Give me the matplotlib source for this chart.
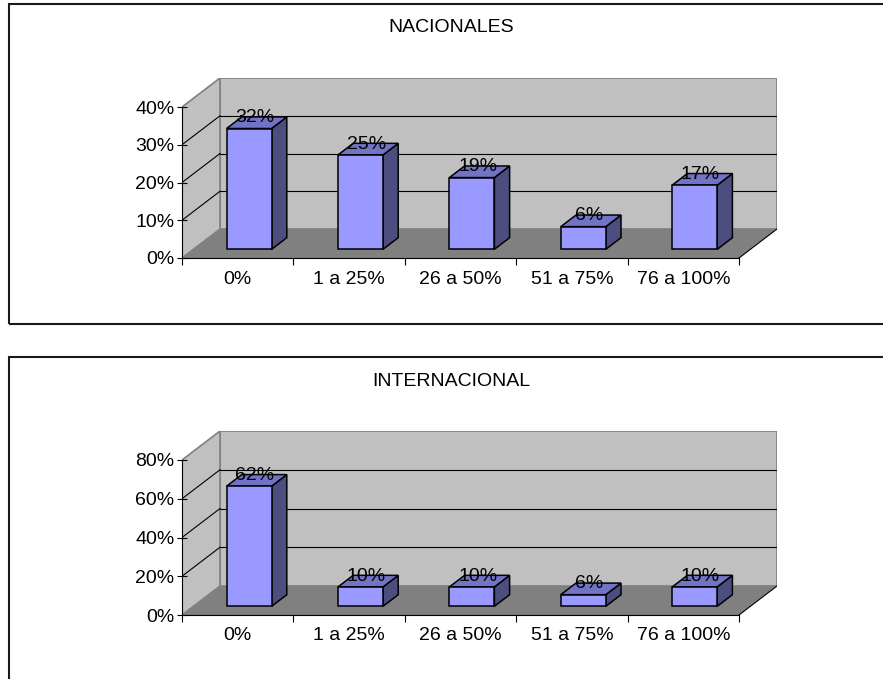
import matplotlib
matplotlib.use("Agg")
import matplotlib.pyplot as plt
from matplotlib.patches import Polygon, Rectangle
import numpy as np

plt.rcParams['font.family'] = ['Liberation Sans', 'DejaVu Sans']

categories = ["0%", "1 a 25%", "26 a 50%", "51 a 75%", "76 a 100%"]
nacionales = [32, 25, 19, 6, 17]
internacional = [62, 10, 10, 6, 10]

W, H = 883, 679
fig = plt.figure(figsize=(W / 100, H / 100), dpi=100)

# chart frames (cut off at the right / bottom edge like the original)
fig.patches.append(Rectangle((9 / W, 1 - 324 / H), 1.0, (324 - 4) / H,
                             transform=fig.transFigure, fill=False,
                             edgecolor='#1a1a1a', linewidth=1.5))
fig.patches.append(Rectangle((9 / W, -0.1), 1.0, 0.1 + (H - 357) / H,
                             transform=fig.transFigure, fill=False,
                             edgecolor='#1a1a1a', linewidth=1.5))

front = '#9999FF'
top_c = '#7373C6'
side_c = '#4D4D80'


def chart(title, values, ymax, ystep, box_px, title_y):
    # box_px: left, right (incl. back wall), bottom (y=0 front), top (back wall top)
    left, right, bottom, top = box_px
    depth_x, depth_y = 38, 29            # pixel offset of the back wall
    n = len(values)
    ax = fig.add_axes([left / W, 1 - bottom / H, (right - left) / W, (bottom - top) / H])
    cat_px = (right - left - depth_x) / n
    dx = depth_x / cat_px
    val_px = (bottom - top - depth_y) / ymax
    dy = depth_y / val_px
    x0, x1 = -0.5, n - 0.5
    ax.set_xlim(x0, x1 + dx)
    ax.set_ylim(0, ymax + dy)

    # walls and floor
    ax.add_patch(Polygon([(x0 + dx, dy), (x1 + dx, dy), (x1 + dx, ymax + dy), (x0 + dx, ymax + dy)],
                         facecolor='#C0C0C0', edgecolor='#808080', lw=1.2, zorder=1))
    ax.add_patch(Polygon([(x0, 0), (x0 + dx, dy), (x0 + dx, ymax + dy), (x0, ymax)],
                         facecolor='#C0C0C0', edgecolor='#808080', lw=1.2, zorder=1))
    ax.add_patch(Polygon([(x0, 0), (x1, 0), (x1 + dx, dy), (x0 + dx, dy)],
                         facecolor='#808080', edgecolor='none', zorder=1))
    ax.plot([x1, x1 + dx], [0, dy], color='black', lw=0.8, zorder=2)
    for g in np.arange(ystep, ymax, ystep):
        ax.plot([x0 + dx, x1 + dx], [g + dy, g + dy], color='black', lw=0.8, zorder=2)
        ax.plot([x0, x0 + dx], [g, g + dy], color='black', lw=0.8, zorder=2)

    # 3D bars
    bw, f, d = 0.404, 0.3, 0.4
    for i, v in enumerate(values):
        a, b = i - bw / 2 + f * dx, i + bw / 2 + f * dx
        yb = f * dy
        ax.add_patch(Polygon([(b, yb), (b + d * dx, yb + d * dy), (b + d * dx, yb + v + d * dy), (b, yb + v)],
                             facecolor=side_c, edgecolor='black', lw=1.1, zorder=3))
        ax.add_patch(Polygon([(a, yb + v), (b, yb + v), (b + d * dx, yb + v + d * dy), (a + d * dx, yb + v + d * dy)],
                             facecolor=top_c, edgecolor='black', lw=1.1, zorder=3))
        ax.add_patch(Rectangle((a, yb), b - a, v, facecolor=front, edgecolor='black', lw=1.1, zorder=3))
        ax.text(i + 0.45 * dx, v + 0.52 * dy, f"{v}%", ha='center', va='baseline',
                fontsize=14, color='black', zorder=4)

    # axes
    for s in ['top', 'right']:
        ax.spines[s].set_visible(False)
    ax.spines['left'].set_bounds(0, ymax)
    ax.spines['bottom'].set_bounds(x0, x1)
    ax.spines['left'].set_zorder(2)
    ax.set_yticks(np.arange(0, ymax + ystep / 2, ystep))
    ax.set_yticklabels([f"{int(t)}%" for t in np.arange(0, ymax + ystep / 2, ystep)])
    ax.tick_params(axis='y', direction='inout', length=7, width=0.8, pad=2, labelsize=14)
    ax.set_xticks(np.arange(x0, x1 + 0.01, 1.0))
    ax.set_xticklabels([])
    ax.tick_params(axis='x', which='major', direction='out', length=5, width=0.8)
    ax.set_xticks(np.arange(n), minor=True)
    ax.set_xticklabels(categories, minor=True)
    ax.tick_params(axis='x', which='minor', length=0, pad=9, labelsize=14)
    ax.patch.set_visible(False)

    fig.text(451 / W, 1 - title_y / H, title, ha='center', va='center', fontsize=14)
    return ax


chart("NACIONALES", nacionales, 40, 10, (182, 777, 258, 78), 27)
chart("INTERNACIONAL", internacional, 80, 20, (182, 777, 615, 431), 382)

fig.savefig("out.png", dpi=100)
